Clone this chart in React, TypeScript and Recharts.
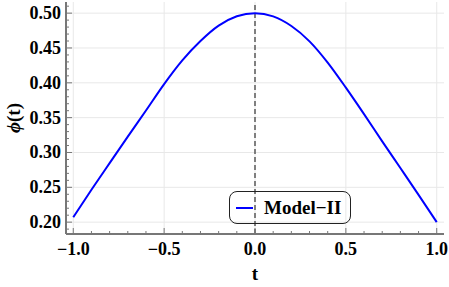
import { LineChart, Line, XAxis, YAxis, CartesianGrid, ReferenceLine, Legend } from 'recharts'

const tValues = [-1, -0.9, -0.8, -0.7, -0.6, -0.5, -0.4, -0.3, -0.2, -0.1, 0, 0.1, 0.2, 0.3, 0.4, 0.5, 0.6, 0.7, 0.8, 0.9, 1]
const phiValues = [
  0.207, 0.2465, 0.2848, 0.3228, 0.3602, 0.3982, 0.4322, 0.46, 0.4821, 0.4955, 0.5,
  0.4953, 0.4815, 0.4595, 0.429, 0.393, 0.355, 0.316, 0.2777, 0.2392, 0.2,
]

const xMajorTicks = [-1, -0.5, 0, 0.5, 1]
const xAllTicks = [-1, -0.9, -0.8, -0.7, -0.6, -0.5, -0.4, -0.3, -0.2, -0.1, 0, 0.1, 0.2, 0.3, 0.4, 0.5, 0.6, 0.7, 0.8, 0.9, 1]
const yMajorTicks = [0.2, 0.25, 0.3, 0.35, 0.4, 0.45, 0.5]
const yAllTicks = [
  0.19, 0.2, 0.21, 0.22, 0.23, 0.24, 0.25, 0.26, 0.27, 0.28, 0.29, 0.3, 0.31, 0.32, 0.33, 0.34, 0.35,
  0.36, 0.37, 0.38, 0.39, 0.4, 0.41, 0.42, 0.43, 0.44, 0.45, 0.46, 0.47, 0.48, 0.49, 0.5, 0.51,
]

const seriesName = 'Model\u2212II'

const data = tValues.map((t, i) => ({ t, phi: phiValues[i] }))

const FONT = '"Liberation Serif", "Times New Roman", serif'
const FRAME = '#777'

const isMajor = (v: number, majors: number[]) => majors.some((m) => Math.abs(m - v) < 1e-6)
const fmtX = (v: number) => (v < 0 ? '\u2212' + Math.abs(v).toFixed(1) : v.toFixed(1))

function BottomTick(props: any) {
  const { x, y, payload } = props
  const major = isMajor(payload.value, xMajorTicks)
  return (
    <g>
      <line x1={x} x2={x} y1={y} y2={y - (major ? 6 : 3)} stroke={FRAME} />
      {major && (
        <text x={x} y={y + 21} textAnchor="middle" fontFamily={FONT} fontWeight="bold" fontSize={18} fill="#000">
          {fmtX(payload.value)}
        </text>
      )}
    </g>
  )
}

function TopTick(props: any) {
  const { x, y, payload } = props
  const major = isMajor(payload.value, xMajorTicks)
  return <line x1={x} x2={x} y1={y} y2={y + (major ? 6 : 3)} stroke={FRAME} />
}

function LeftTick(props: any) {
  const { x, y, payload } = props
  const major = isMajor(payload.value, yMajorTicks)
  return (
    <g>
      <line x1={x} x2={x + (major ? 6 : 3)} y1={y} y2={y} stroke={FRAME} />
      {major && (
        <text x={x - 5} y={y + 6} textAnchor="end" fontFamily={FONT} fontWeight="bold" fontSize={18} fill="#000">
          {payload.value.toFixed(2)}
        </text>
      )}
    </g>
  )
}

function RightTick(props: any) {
  const { x, y, payload } = props
  const major = isMajor(payload.value, yMajorTicks)
  return <line x1={x} x2={x - (major ? 6 : 3)} y1={y} y2={y} stroke={FRAME} />
}

function LegendBox() {
  return (
    <div
      style={{
        width: 120,
        height: 31,
        border: '1px solid #222',
        borderRadius: 8,
        display: 'flex',
        alignItems: 'center',
        boxSizing: 'content-box',
      }}
    >
      <span style={{ width: 17, height: 2, background: '#0000ff', marginLeft: 6, marginRight: 11 }} />
      <span style={{ fontFamily: FONT, fontWeight: 'bold', fontSize: 19, color: '#000' }}>{seriesName}</span>
    </div>
  )
}

export default function App() {
  return (
    <div style={{ position: 'absolute', left: 0, top: 0, background: '#fff' }}>
      <LineChart width={449} height={287} data={data} margin={{ top: 2, right: 5, bottom: 0, left: 0 }}>
        <CartesianGrid stroke="#e8e8e8" horizontalValues={yMajorTicks} verticalValues={xMajorTicks} />
        <XAxis
          dataKey="t"
          type="number"
          domain={[-1.04, 1.04]}
          allowDataOverflow
          ticks={xAllTicks}
          interval={0}
          height={53}
          tickSize={0}
          tickMargin={0}
          tickLine={false}
          axisLine={{ stroke: FRAME, strokeWidth: 2 }}
          tick={<BottomTick />}
          label={{
            content: () => (
              <text x={255} y={280} textAnchor="middle" fontFamily={FONT} fontWeight="bold" fontSize={19} fill="#000">
                t
              </text>
            ),
          }}
        />
        <XAxis
          xAxisId="top"
          orientation="top"
          type="number"
          domain={[-1.04, 1.04]}
          allowDataOverflow
          ticks={xAllTicks}
          interval={0}
          height={0}
          tickSize={0}
          tickMargin={0}
          tickLine={false}
          axisLine={{ stroke: FRAME, strokeWidth: 2 }}
          tick={<TopTick />}
        />
        <YAxis
          type="number"
          domain={[0.183, 0.516]}
          allowDataOverflow
          ticks={yAllTicks}
          interval={0}
          width={66}
          tickSize={0}
          tickMargin={0}
          tickLine={false}
          axisLine={{ stroke: FRAME, strokeWidth: 2 }}
          tick={<LeftTick />}
          label={{
            content: () => (
              <text
                x={13}
                y={118}
                transform="rotate(-90 13 118)"
                textAnchor="middle"
                dominantBaseline="central"
                fontFamily={FONT}
                fontWeight="bold"
                fontSize={19}
                fill="#000"
              >
                <tspan fontStyle="italic">{'\u03d5'}</tspan>(t)
              </text>
            ),
          }}
        />
        <YAxis
          yAxisId="right"
          orientation="right"
          type="number"
          domain={[0.183, 0.516]}
          allowDataOverflow
          ticks={yAllTicks}
          interval={0}
          width={0}
          tickSize={0}
          tickMargin={0}
          tickLine={false}
          axisLine={{ stroke: FRAME, strokeWidth: 2 }}
          tick={<RightTick />}
        />
        <ReferenceLine x={0} stroke="#333" strokeWidth={1.2} strokeDasharray="5 3" />
        <Line
          type="monotone"
          dataKey="phi"
          name={seriesName}
          stroke="#0000ff"
          strokeWidth={2}
          dot={false}
          isAnimationActive={false}
        />
        <Legend
          layout="horizontal"
          verticalAlign="middle"
          align="center"
          content={() => <LegendBox />}
          wrapperStyle={{ left: 229, top: 191, width: 'auto' }}
        />
      </LineChart>
    </div>
  )
}
